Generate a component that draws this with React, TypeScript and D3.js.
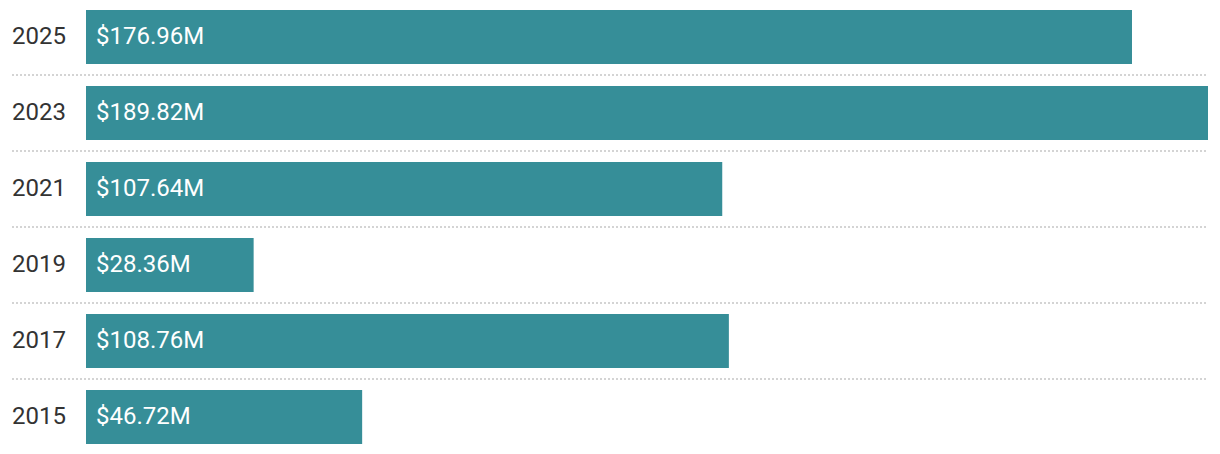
import React from "react";
import * as d3 from "d3";

const years = ["2025", "2023", "2021", "2019", "2017", "2015"];
const values = [176.96, 189.82, 107.64, 28.36, 108.76, 46.72];

const W = 1220;
const H = 454;

export default function App() {
  const x = d3.scaleLinear().domain([0, d3.max(values) as number]).range([86, 1208]);
  const y = d3.scaleBand().domain(years).range([0, 456]).paddingInner(0).paddingOuter(0);
  const rowH = y.bandwidth();
  const barTop = 10;
  const barH = 54;
  const fmt = (v: number) => `$${v.toFixed(2)}M`;
  return (
    <svg
      width={W}
      height={H}
      style={{ position: "absolute", left: 0, top: 0, fontFamily: "Roboto, sans-serif" }}
    >
      <rect width={W} height={H} fill="#fff" />
      {years.map((yr, i) => {
        const y0 = y(yr) as number;
        return (
          <g key={yr}>
            <rect x={x(0)} y={y0 + barTop} width={x(values[i]) - x(0)} height={barH} fill="#368e98" />
            <text x={12} y={y0 + barTop + barH / 2 - 1} dy="0.35em" fontSize={24} fill="#333">
              {yr}
            </text>
            <text x={x(0) + 10} y={y0 + barTop + barH / 2 - 1} dy="0.35em" fontSize={24} fill="#fff">
              {fmt(values[i])}
            </text>
            {i < years.length - 1 && (
              <line
                x1={12}
                x2={1208}
                y1={y0 + rowH - 1}
                y2={y0 + rowH - 1}
                stroke="#d4d4d4"
                strokeWidth={2}
                strokeDasharray="2,2"
              />
            )}
          </g>
        );
      })}
    </svg>
  );
}
